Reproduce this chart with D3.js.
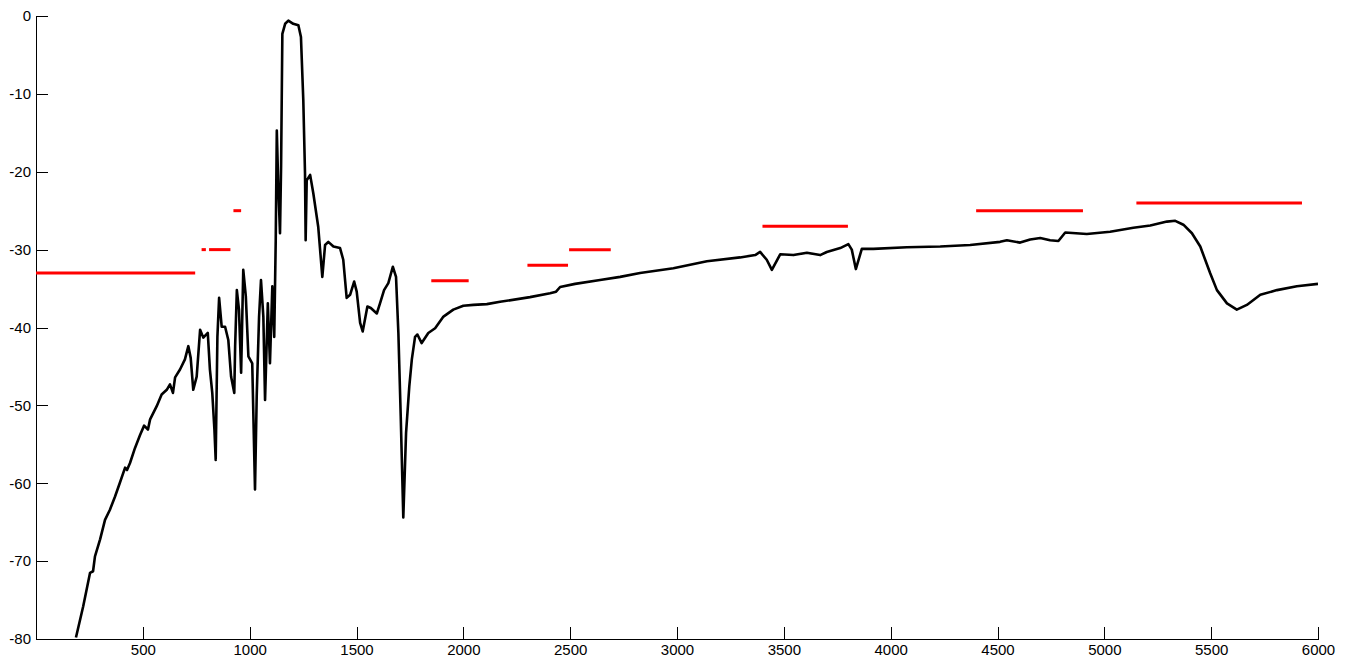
<!DOCTYPE html>
<html>
<head>
<meta charset="utf-8">
<script src="https://cdn.jsdelivr.net/npm/d3@7"></script>
<style>
  body { margin: 0; background: #fff; }
  .axis path, .axis line { stroke: #000; shape-rendering: crispEdges; }
  .axis text { font-family: "Liberation Sans", Arial, sans-serif; font-size: 15px; fill: #000; }
  .line.spectrum { fill: none; stroke: #000; stroke-width: 2.6; stroke-linejoin: round; }
  .line.band { stroke: #f00; stroke-width: 3; }
</style>
</head>
<body>
<svg width="1352" height="661"></svg>
<script>
// spectrum
var waveX = [187, 221, 253, 267, 276, 300, 323, 346, 370, 393, 417, 426, 440, 463, 487, 506, 524, 534, 565, 588,
  612, 627, 641, 651, 674, 697, 713, 724, 736, 752, 768, 783, 804, 814, 825, 835, 841, 849, 857, 869,
  885, 900, 913, 928, 932, 940, 950, 960, 970, 982, 994, 1012, 1025, 1033, 1044, 1053, 1064, 1072, 1085, 1095,
  1106, 1115, 1122, 1127, 1134, 1142, 1147, 1153, 1166, 1181, 1204, 1228, 1240, 1251, 1259, 1262, 1267, 1283, 1298, 1321,
  1340, 1353, 1368, 1392, 1423, 1438, 1454, 1470, 1489, 1501, 1517, 1529, 1551, 1567, 1595, 1610, 1629, 1649, 1670, 1685,
  1696, 1707, 1719, 1732, 1747, 1759, 1774, 1785, 1805, 1836, 1868, 1907, 1953, 2000, 2047, 2110, 2172, 2312, 2406, 2434,
  2453, 2523, 2640, 2734, 2827, 2983, 3140, 3295, 3366, 3389, 3420, 3444, 3483, 3545, 3608, 3670, 3701, 3764, 3802, 3818,
  3837, 3865, 3919, 4076, 4232, 4372, 4512, 4544, 4606, 4653, 4700, 4746, 4785, 4817, 4918, 5027, 5136, 5215, 5293, 5332,
  5370, 5410, 5449, 5495, 5527, 5574, 5620, 5667, 5730, 5808, 5901, 6000];
var waveY = [-79.8, -75.8, -71.5, -71.3, -69.4, -67.2, -64.7, -63.4, -61.7, -59.9, -58.0, -58.3, -57.4, -55.5, -53.8, -52.6, -53.1, -51.8, -50.1, -48.6,
  -48.0, -47.3, -48.4, -46.4, -45.4, -44.1, -42.4, -43.9, -48.0, -46.3, -40.3, -41.3, -40.7, -45.4, -48.4, -53.1, -57.0, -41.2, -36.2, -39.9,
  -39.9, -41.6, -46.3, -48.4, -42.4, -35.2, -37.7, -45.8, -32.6, -36.0, -43.7, -44.6, -60.8, -48.8, -38.6, -33.9, -38.6, -49.3, -36.9, -44.6,
  -34.7, -41.2, -28.8, -14.7, -21.9, -27.9, -19.4, -2.3, -1.0, -0.6, -1.0, -1.2, -2.7, -10.8, -20.2, -28.8, -21.1, -20.4, -22.8, -27.1,
  -33.5, -29.4, -29.0, -29.6, -29.8, -31.3, -36.2, -35.8, -34.1, -35.4, -39.4, -40.5, -37.3, -37.5, -38.2, -36.9, -35.2, -34.3, -32.2, -33.5,
  -40.7, -51.4, -64.4, -53.5, -47.6, -44.1, -41.2, -40.9, -42.0, -40.7, -40.1, -38.6, -37.7, -37.2, -37.1, -37.0, -36.7, -36.1, -35.6, -35.4,
  -34.8, -34.4, -33.9, -33.5, -33.0, -32.4, -31.5, -31.0, -30.7, -30.3, -31.3, -32.6, -30.6, -30.7, -30.4, -30.7, -30.3, -29.8, -29.3, -30.0,
  -32.5, -29.9, -29.9, -29.7, -29.6, -29.4, -29.0, -28.8, -29.1, -28.7, -28.5, -28.8, -28.9, -27.8, -28.0, -27.7, -27.2, -26.9, -26.4, -26.3,
  -26.8, -27.9, -29.6, -33.0, -35.2, -36.9, -37.7, -37.1, -35.8, -35.2, -34.7, -34.4];

// red limit bands
var bandStart = [0, 775, 810, 924, 1850, 2300, 2495, 3400, 4400, 5150];
var bandEnd   = [745, 795, 910, 960, 2025, 2490, 2690, 3800, 4900, 5925];
var bandLevel = [-33, -30, -30, -25, -34, -32, -30, -27, -25, -24];

var xTicks = [500, 1000, 1500, 2000, 2500, 3000, 3500, 4000, 4500, 5000, 5500, 6000];
var yTicks = [0, -10, -20, -30, -40, -50, -60, -70, -80];

var svg = d3.select("svg"),
    margin = {top: 16, right: 34, bottom: 22, left: 36},
    width = +svg.attr("width") - margin.left - margin.right,
    height = +svg.attr("height") - margin.top - margin.bottom;

var x = d3.scaleLinear().domain([0, 6000]).range([0, width]),
    y = d3.scaleLinear().domain([-80, 0]).range([height, 0]);

// plain numbers, hyphen minus, no thousands separator
var plain = function(d) { return String(d); };

var chart = svg.append("g")
    .attr("transform", "translate(" + margin.left + "," + margin.top + ")");

chart.append("clipPath")
    .attr("id", "plot")
  .append("rect")
    .attr("width", width)
    .attr("height", height);

// x-axis, ticks point inwards
chart.append("g")
    .attr("class", "x axis")
    .attr("transform", "translate(0," + height + ")")
    .call(d3.axisBottom(x).tickValues(xTicks).tickFormat(plain).tickSizeInner(-12).tickSizeOuter(0))
  .selectAll("text")
    .attr("y", 5)
    .attr("dy", "0.71em");

// y-axis
chart.append("g")
    .attr("class", "y axis")
    .call(d3.axisLeft(y).tickValues(yTicks).tickFormat(plain).tickSizeInner(-12).tickSizeOuter(0))
  .selectAll("text")
    .attr("x", -5);

var pts = waveX.map(function(v, i) { return [v, waveY[i]]; });

chart.append("path")
    .datum(pts)
    .attr("class", "line spectrum")
    .attr("clip-path", "url(#plot)")
    .attr("d", d3.line()
      .x(function(d) { return x(d[0]); })
      .y(function(d) { return y(d[1]); }));

chart.selectAll(".band")
    .data(bandLevel)
  .enter().append("line")
    .attr("class", "line band")
    .attr("x1", function(d, i) { return x(bandStart[i]); })
    .attr("x2", function(d, i) { return x(bandEnd[i]); })
    .attr("y1", function(d) { return y(d); })
    .attr("y2", function(d) { return y(d); });
</script>
</body>
</html>
